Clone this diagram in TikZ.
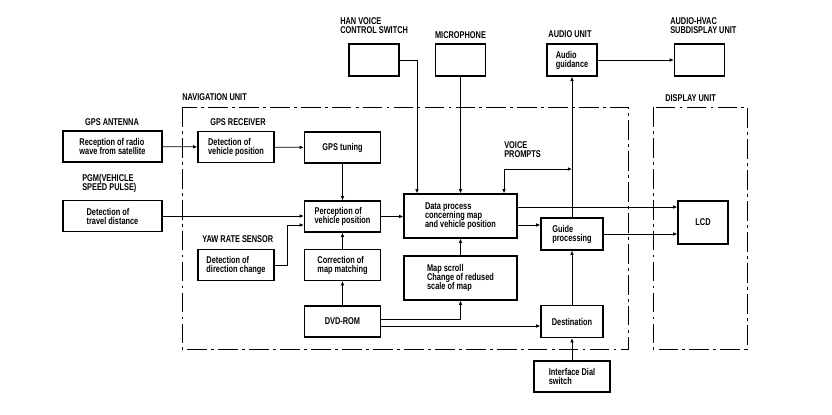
\documentclass[tikz,border=0pt]{standalone}
\usepackage{fontspec}
\setmainfont[FakeStretch=0.75]{Liberation Sans}
\usetikzlibrary{arrows.meta, positioning, calc}
\newcommand{\navfont}{\fontsize{7}{6.4}\selectfont\bfseries\setlength{\lineskiplimit}{-5pt}}

\begin{document}
\begin{tikzpicture}[
        x=0.025cm, y=-0.025cm,
        font=\navfont,
        unit box/.style={draw, line width=0.9pt, align=left, inner sep=1pt},
        small box/.style={unit box, minimum width=1.9cm, minimum height=0.775cm},
        wide box/.style={unit box, minimum width=2.475cm, minimum height=0.775cm},
        data box/.style={unit box, minimum width=2.825cm, minimum height=1.1cm},
        guide box/.style={unit box, minimum width=1.55cm, minimum height=0.8cm},
        top box/.style={unit box, minimum width=1.25cm, minimum height=0.8cm},
        unit label/.style={align=left, inner sep=0pt},
        frame line/.style={line width=0.6pt, dash pattern=on 14pt off 3pt on 2pt off 3pt},
        flow arrow/.style={line width=0.6pt, -{Latex[length=3pt, width=2.6pt]}}
    ]
    \useasboundingbox (0,0) rectangle (832,414);

    % Unit frames
    \draw[frame line] (182,107) rectangle (628,349);
    \draw[frame line] (653,107) rectangle (747,349);
    \node[unit label, anchor=west] (navunit) at (182,97) {NAVIGATION UNIT};
    \node[unit label, anchor=west] (dispunit) at (665,98) {DISPLAY UNIT};

    % Sensors (left)
    \node[unit label] (antenna) at (112,122) {GPS ANTENNA};
    \node[wide box] (reception) at (112.5,146.5) {Reception of radio\\wave from satellite};
    \node[unit label, anchor=west] (pgm) at (82,183) {PGM(VEHICLE\\SPEED PULSE)};
    \node[wide box] (travel) at (112.5,216) {Detection of\\travel distance};

    % Navigation unit
    \node[unit label, anchor=west] (receiver) at (210,122) {GPS RECEIVER};
    \node[small box] (detpos) at (236,147) {Detection of\\vehicle position};
    \node[small box] (gpstune) at (342.5,147.5) {GPS tuning};
    \node[small box] (perception) at (342.5,216.5) {Perception of\\vehicle position};
    \node[unit label, anchor=west] (yaw) at (202,239) {YAW RATE SENSOR};
    \node[small box] (direction) at (236,265) {Detection of\\direction change};
    \node[small box] (correction) at (342.5,265) {Correction of\\map matching};
    \node[small box] (dvd) at (342.5,321.5) {DVD-ROM};
    \node[data box] (data) at (460.5,216) {Data process\\concerning map\\and vehicle position};
    \node[data box] (scroll) at (460.5,278) {Map scroll\\Change of redused\\scale of map};
    \node[guide box] (guide) at (572,234) {Guide\\processing};
    \node[guide box] (destination) at (572,321.5) {Destination};
    \node[unit label, anchor=west] (prompts) at (504,150) {VOICE\\PROMPTS};

    % Outside units
    \node[small box] (dial) at (572,376.5) {Interface Dial\\switch};
    \node[unit box, minimum width=1.25cm, minimum height=1.075cm] (lcd) at (703,222.5) {LCD};
    \node[unit label, anchor=west] (hanlabel) at (340,26) {HAN VOICE\\CONTROL SWITCH};
    \node[top box] (han) at (374,60) {};
    \node[unit label] (miclabel) at (460.5,35) {MICROPHONE};
    \node[top box] (mic) at (460.5,60) {};
    \node[unit label] (audiolabel) at (570,34) {AUDIO UNIT};
    \node[top box] (audio) at (572,60) {Audio\\guidance};
    \node[unit label, anchor=west] (hvaclabel) at (670,26) {AUDIO-HVAC\\SUBDISPLAY UNIT};
    \node[top box] (hvac) at (699.5,60) {};

    % Connections
    \draw[flow arrow] (reception) -- (detpos);
    \draw[flow arrow] (detpos) -- (gpstune);
    \draw[flow arrow] (gpstune) -- (perception);
    \draw[flow arrow] (travel.east) -- (perception.west |- travel.east);
    \draw[flow arrow] (direction.east) -- ++(13,0) |- ($(perception.west)+(0,8.5)$);
    \draw[flow arrow] (correction) -- (perception);
    \draw[flow arrow] (dvd) -- (correction);
    \draw[flow arrow] ($(dvd.east)+(0,-2.5)$) -| (scroll.south);
    \draw[flow arrow] ($(dvd.east)+(0,4.5)$) -- ($(destination.west)+(0,4.5)$);
    \draw[flow arrow] (scroll) -- (data);
    \draw[flow arrow] (perception.east) -- (data.west |- perception.east);
    \draw[flow arrow] ($(data.east)+(0,9)$) -- ($(guide.west)+(0,-9)$);
    \draw[flow arrow] ($(data.east)+(0,-9)$) -- ($(lcd.west)+(0,-15.5)$);
    \draw[flow arrow] (guide.east) -- (lcd.west |- guide.east);
    \draw[flow arrow] (destination) -- (guide);
    \draw[flow arrow] (dial) -- (destination);
    \draw[flow arrow] (guide) -- (audio);
    \draw[flow arrow] (audio) -- (hvac);
    \draw[flow arrow] (han.east) -| ($(data.north)+(-43.5,0)$);
    \draw[flow arrow] (mic) -- (data);

    % Voice prompts loop
    \coordinate (vp) at (572,169);
    \draw[line width=0.6pt, {Latex[length=3pt, width=2.6pt]}-{Latex[length=3pt, width=2.6pt]}] (vp) -| ($(data.north)+(43.5,0)$);

\end{tikzpicture}
\end{document}
